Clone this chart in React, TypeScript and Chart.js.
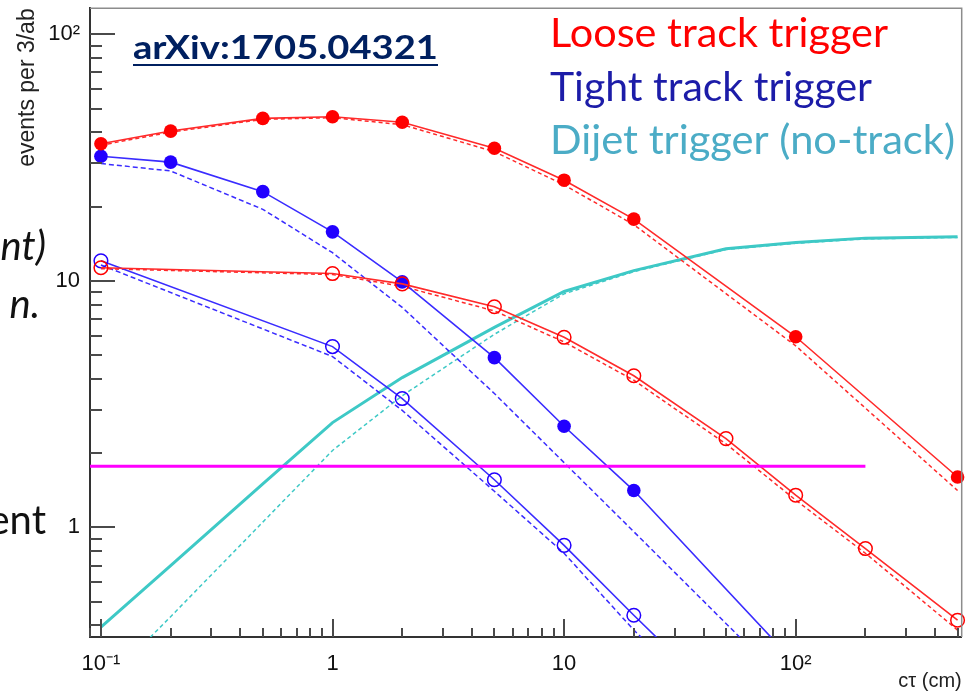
import React, { useEffect, useRef } from "react";
import { Chart, registerables } from "chart.js";

Chart.register(...registerables);

// Decay length cτ (cm) sampled for each selection
const ctLooseFilled = [0.1, 0.2, 0.5, 1, 2, 5, 10, 20, 100, 500];
const ctLooseOpen = [0.1, 1, 2, 5, 10, 20, 50, 100, 200, 500];
const ctTightFilled = [0.1, 0.2, 0.5, 1, 2, 5, 10, 20, 100];
const ctTightOpen = [0.1, 1, 2, 5, 10, 20, 50];
const ctDijet = [0.1, 0.2, 0.5, 1, 2, 5, 10, 20, 50, 100, 200, 500];

// Loose track trigger (events per 3/ab)
const looseFilled = [36.0, 40.5, 45.6, 46.3, 44.0, 34.5, 25.6, 17.8, 5.93, 1.6];
const looseFilledAlt = [35.5, 40.1, 45.2, 45.9, 43.0, 33.4, 24.5, 16.9, 5.45, 1.41];
const looseOpen = [11.3, 10.7, 9.72, 7.85, 5.9, 4.12, 2.29, 1.35, 0.82, 0.42];
const looseOpenAlt = [11.2, 10.6, 9.5, 7.55, 5.65, 3.95, 2.18, 1.29, 0.785, 0.383];

// Tight track trigger
const tightFilled = [32.0, 30.3, 23.0, 15.8, 9.9, 4.88, 2.57, 1.41, 0.28];
const tightFilledAlt = [29.9, 27.9, 19.5, 13.0, 7.8, 3.49, 1.83, 0.96, 0.213];
const tightOpen = [12.05, 5.41, 3.33, 1.56, 0.845, 0.44, 0.19];
const tightOpenAlt = [11.6, 4.93, 2.98, 1.4, 0.785, 0.383, 0.165];

// Dijet trigger (no-track)
const dijet = [0.394, 0.7, 1.5, 2.66, 4.05, 6.47, 9.05, 11.0, 13.5, 14.3, 14.9, 15.1];
const dijetAlt = [0.225, 0.434, 1.05, 2.05, 3.42, 6.07, 8.85, 10.9, 13.4, 14.2, 14.8, 15.0];

// Horizontal reference level
const refLevelCt = [0.0897, 200];
const refLevel = [1.77, 1.77];

// Axis ranges and decade labels
const xRange = [0.0897, 521];
const yRange = [0.359, 127.5];
const xDecades = [0.1, 1, 10, 100];
const yDecades = [1, 10, 100];

const legendLines = ["Loose track trigger", "Tight track trigger", "Dijet trigger (no-track)"];
const legendColors = ["#ff0000", "#1c1ca8", "#4bacc6"];
const referenceTag = "arXiv:1705.04321";

const SUP: Record<string, string> = { "-": "\u207B", "0": "\u2070", "1": "\u00B9", "2": "\u00B2", "3": "\u00B3" };
function decadeLabel(v: number): string {
  const e = Math.round(Math.log10(v));
  if (e === 0) return "1";
  if (e === 1) return "10";
  return "10" + String(e).split("").map((c) => SUP[c]).join("");
}

function pts(xs: number[], ys: number[]) {
  return xs.map((x, i) => ({ x, y: ys[i] }));
}

const RED = "#ff0000";
const RED_LINE = "#ff2a2a";
const BLUE = "#2200ff";
const BLUE_LINE = "#3a2cff";
const TEAL = "#3ec9c6";
const MAGENTA = "#ff00ff";

const CLIP = { left: 0, top: 0, right: 10, bottom: 0 };

function solid(label: string, xs: number[], ys: number[], line: string, mark: string, filled: boolean, order: number) {
  return {
    label,
    data: pts(xs, ys),
    borderColor: line,
    borderWidth: 1.6,
    pointRadius: 6.8,
    pointBorderWidth: filled ? 0 : 1.5,
    pointBackgroundColor: filled ? mark : "rgba(0,0,0,0)",
    pointBorderColor: mark,
    tension: 0,
    fill: false,
    clip: CLIP,
    order,
  };
}

function dashed(label: string, xs: number[], ys: number[], line: string, dash: number[], order: number) {
  return {
    label,
    data: pts(xs, ys),
    borderColor: line,
    borderWidth: 1.5,
    borderDash: dash,
    pointRadius: 0,
    tension: 0,
    fill: false,
    clip: CLIP,
    order,
  };
}

function fitText(ctx: CanvasRenderingContext2D, text: string, x: number, y: number, width: number, font: string, color: string) {
  ctx.save();
  ctx.font = font;
  const w = ctx.measureText(text).width;
  ctx.translate(x, y);
  ctx.scale(width / w, 1);
  ctx.fillStyle = color;
  ctx.textAlign = "left";
  ctx.textBaseline = "alphabetic";
  ctx.fillText(text, 0, 0);
  ctx.restore();
}

const axisDecorations = {
  id: "axisDecorations",
  afterDraw(chart: any) {
    const { ctx, chartArea: a, scales } = chart;
    const xs = scales.x;
    const ys = scales.y;
    ctx.save();
    // frame on top and right
    ctx.strokeStyle = "#8c8c8c";
    ctx.lineWidth = 1.5;
    ctx.beginPath();
    ctx.moveTo(a.left, a.top);
    ctx.lineTo(a.right, a.top);
    ctx.lineTo(a.right, a.bottom);
    ctx.stroke();
    // inward major / minor ticks
    ctx.strokeStyle = "#4a4a4a";
    ctx.lineWidth = 2;
    for (let e = -2; e <= 3; e++) {
      for (let k = 1; k <= 9; k++) {
        const v = k * Math.pow(10, e);
        if (v >= xs.min && v <= xs.max) {
          const px = Math.round(xs.getPixelForValue(v));
          const len = k === 1 ? 18 : 9;
          ctx.beginPath();
          ctx.moveTo(px, a.bottom);
          ctx.lineTo(px, a.bottom - len);
          ctx.stroke();
        }
        if (v >= ys.min && v <= ys.max) {
          const py = Math.round(ys.getPixelForValue(v));
          const len = k === 1 ? 25 : 12;
          ctx.beginPath();
          ctx.moveTo(a.left, py);
          ctx.lineTo(a.left + len, py);
          ctx.stroke();
        }
      }
    }
    ctx.restore();
  },
};

const annotations = {
  id: "annotations",
  afterDraw(chart: any) {
    const ctx: CanvasRenderingContext2D = chart.ctx;
    // legend text
    const legendWidths = [338, 322, 405];
    legendLines.forEach((t, i) => {
      fitText(ctx, t, 550, 47 + i * 53.5, legendWidths[i], "40px Lato", legendColors[i]);
    });
    // reference tag, bold and underlined
    fitText(ctx, referenceTag, 133, 59, 305, "bold 33px Lato", "#002060");
    ctx.save();
    ctx.fillStyle = "#002060";
    ctx.fillRect(133, 64, 305, 2);
    ctx.restore();
    // text continuing from the left margin
    ctx.save();
    ctx.fillStyle = "#111";
    ctx.textAlign = "right";
    ctx.textBaseline = "alphabetic";
    ctx.font = "italic 40px Lato";
    ctx.fillText("nt)", 46, 260);
    ctx.fillText("n.", 40, 318);
    ctx.font = "40px Lato";
    ctx.fillText("ent", 46, 534);
    ctx.restore();
  },
};

export default function App() {
  const ref = useRef<HTMLCanvasElement>(null);

  useEffect(() => {
    const datasets: any[] = [
      {
        label: "reference level",
        data: pts(refLevelCt, refLevel),
        borderColor: MAGENTA,
        borderWidth: 3,
        pointRadius: 0,
        fill: false,
        clip: CLIP,
        order: 0,
      },
      solid("Loose, filled", ctLooseFilled, looseFilled, RED_LINE, RED, true, 1),
      dashed("Loose, filled (alt)", ctLooseFilled, looseFilledAlt, RED_LINE, [4, 3], 2),
      solid("Loose, open", ctLooseOpen, looseOpen, RED_LINE, RED, false, 1),
      dashed("Loose, open (alt)", ctLooseOpen, looseOpenAlt, RED_LINE, [4, 3], 2),
      solid("Tight, filled", ctTightFilled, tightFilled, BLUE_LINE, BLUE, true, 1),
      dashed("Tight, filled (alt)", ctTightFilled, tightFilledAlt, BLUE_LINE, [5, 3], 2),
      solid("Tight, open", ctTightOpen, tightOpen, BLUE_LINE, BLUE, false, 1),
      dashed("Tight, open (alt)", ctTightOpen, tightOpenAlt, BLUE_LINE, [5, 3], 2),
      {
        label: "Dijet",
        data: pts(ctDijet, dijet),
        borderColor: TEAL,
        borderWidth: 3,
        pointRadius: 0,
        fill: false,
        clip: CLIP,
        order: 5,
      },
      dashed("Dijet (alt)", ctDijet, dijetAlt, TEAL, [4, 3], 6),
    ];

    const tickFont = { family: "'Liberation Sans', Arial, sans-serif", size: 22 };

    const chart = new Chart(ref.current as HTMLCanvasElement, {
      type: "line",
      data: { datasets },
      options: {
        animation: false,
        responsive: false,
        devicePixelRatio: 1,
        layout: { padding: { top: 7, right: 3, left: 0, bottom: 0 } },
        plugins: { legend: { display: false }, tooltip: { enabled: false } },
        scales: {
          x: {
            type: "logarithmic",
            min: xRange[0],
            max: xRange[1],
            afterBuildTicks: (s: any) => {
              s.ticks = xDecades.map((v) => ({ value: v }));
            },
            afterFit: (s: any) => {
              s.height = 56;
              s.paddingLeft = 0;
              s.paddingRight = 0;
            },
            grid: { display: false, drawTicks: false },
            border: { display: true, color: "#333", width: 2 },
            ticks: {
              autoSkip: false,
              maxRotation: 0,
              padding: 14,
              color: "#111",
              font: tickFont,
              callback: (v: any) => decadeLabel(Number(v)),
            },
            title: {
              display: true,
              text: "c\u03C4 (cm)",
              align: "end",
              color: "#222",
              font: { family: "'Liberation Sans', Arial, sans-serif", size: 20 },
              padding: { top: 0, bottom: 0 },
            },
          },
          y: {
            type: "logarithmic",
            min: yRange[0],
            max: yRange[1],
            afterBuildTicks: (s: any) => {
              s.ticks = yDecades.map((v) => ({ value: v }));
            },
            afterFit: (s: any) => {
              s.width = 90;
              s.paddingTop = 0;
              s.paddingBottom = 0;
            },
            grid: { display: false, drawTicks: false },
            border: { display: true, color: "#333", width: 2 },
            ticks: {
              autoSkip: false,
              padding: 10,
              color: "#111",
              font: tickFont,
              callback: (v: any) => decadeLabel(Number(v)),
            },
            title: {
              display: true,
              text: "events per 3/ab",
              align: "end",
              color: "#222",
              font: { family: "'Liberation Sans', Arial, sans-serif", size: 23 },
              padding: { top: 14, bottom: 0 },
            },
          },
        },
      },
      plugins: [axisDecorations, annotations],
    } as any);

    return () => chart.destroy();
  }, []);

  return (
    <div style={{ position: "fixed", left: 0, top: 0, width: 970, height: 693, background: "#fff" }}>
      <canvas ref={ref} width={970} height={693} style={{ display: "block", width: 970, height: 693 }} />
    </div>
  );
}
